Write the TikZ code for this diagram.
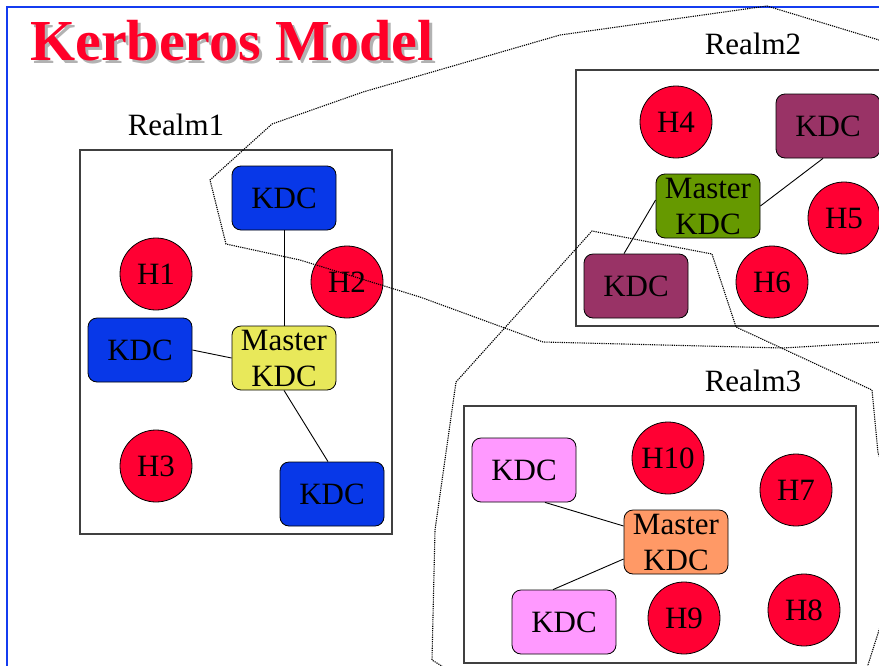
\documentclass[tikz,border=0pt]{standalone}
\usepackage{fontspec}
\setmainfont{Liberation Serif}
\definecolor{hostred}{RGB}{255,0,51}
\definecolor{kdcblue}{RGB}{8,56,232}
\definecolor{masteryellow}{RGB}{232,232,90}
\definecolor{kdcpurple}{RGB}{153,51,102}
\definecolor{mastergreen}{RGB}{102,153,0}
\definecolor{kdcpink}{RGB}{255,153,255}
\definecolor{masterorange}{RGB}{255,153,102}
\definecolor{frameblue}{RGB}{20,60,240}
\definecolor{titlered}{RGB}{255,0,40}
\begin{document}
\begin{tikzpicture}[x=1pt,y=-1pt,
  label/.style={font=\fontsize{31}{36}\selectfont, inner sep=0pt},
  host/.style={circle, draw=black, line width=0.8pt, fill=hostred,
    minimum size=72pt, inner sep=0pt, font=\fontsize{31}{36}\selectfont},
  kdcbox/.style={rectangle, rounded corners=9pt, draw=black, line width=0.8pt,
    minimum width=104pt, minimum height=64pt, inner sep=0pt, align=center,
    font=\fontsize{31}{36}\selectfont},
  realmbox/.style={rectangle, draw=black!75, line width=1.5pt, inner sep=0pt},
  trust/.style={dash pattern=on 1.2pt off 1pt, line width=1.1pt, draw=black},
  link/.style={line width=0.9pt, draw=black}]
\useasboundingbox (0,0) rectangle (879,665);
\clip (0,0) rectangle (879,665);
\fill[white] (0,0) rectangle (879,665);

% slide frame
\draw[frameblue, line width=2pt] (7,700) -- (7,7) -- (900,7);

% title with its grey drop shadow
\node[anchor=base west, inner sep=0pt, text=titlered,
  font=\fontsize{58}{60}\selectfont\bfseries] (title) at (30,60)
  {\makebox[0pt][l]{\hspace{3pt}\raisebox{-3pt}{\textcolor{black!30}{Kerberos Model}}}Kerberos Model};

% realm frames and labels
\node[realmbox, minimum width=312pt, minimum height=384pt] (realm1) at (236,342) {};
\node[realmbox, minimum width=330pt, minimum height=256pt] (realm2) at (741,198) {};
\node[realmbox, minimum width=392pt, minimum height=257pt] (realm3) at (660,534.5) {};
\node[label] (r1label) at (176,125) {Realm1};
\node[label] (r2label) at (753,44) {Realm2};
\node[label] (r3label) at (753,381) {Realm3};

% realm 1
\node[kdcbox, fill=kdcblue] (k1a) at (284,198) {KDC};
\node[kdcbox, fill=kdcblue] (k1b) at (140,350) {KDC};
\node[kdcbox, fill=kdcblue] (k1c) at (332,494) {KDC};
\node[kdcbox, fill=masteryellow] (m1) at (284,358) {Master\\KDC};
\node[host] (h1) at (156,274) {H1};
\node[host] (h2) at (347,282) {H2};
\node[host] (h3) at (156,466) {H3};
\draw[link] (k1a.south) -- (m1.north);
\draw[link] (k1b.east) -- (m1.west);
\draw[link] (m1.south) -- ([xshift=-4pt]k1c.north);

% realm 2
\node[kdcbox, fill=kdcpurple] (k2a) at (828,126) {KDC};
\node[kdcbox, fill=kdcpurple] (k2b) at (636,286) {KDC};
\node[kdcbox, fill=mastergreen] (m2) at (708,206) {Master\\KDC};
\node[host] (h4) at (676,122) {H4};
\node[host] (h5) at (844,218) {H5};
\node[host] (h6) at (772,282) {H6};
\draw[link] (m2.east) -- ([xshift=-5pt]k2a.south);
\draw[link] ([yshift=6pt]m2.west) -- ([xshift=-12pt]k2b.north);

% realm 3
\node[kdcbox, fill=kdcpink] (k3a) at (524,470) {KDC};
\node[kdcbox, fill=kdcpink] (k3b) at (564,622) {KDC};
\node[kdcbox, fill=masterorange] (m3) at (676,542) {Master\\KDC};
\node[host] (h10) at (668,458) {H10};
\node[host] (h7) at (796,490) {H7};
\node[host] (h9) at (684,618) {H9};
\node[host] (h8) at (804,610) {H8};
\draw[link] ([xshift=21pt]k3a.south) -- ([yshift=16pt]m3.west);
\draw[link] ([yshift=-17pt]m3.west) -- ([xshift=-11pt]k3b.north);

% trust region between realm 1 and realm 2
\draw[trust] (900,48) -- (879,40) -- (767,6) -- (560,35) -- (363,92) -- (272,124)
  -- (210,180) -- (226,244) -- (300,260) -- (420,297) -- (543,342)
  -- (783,348) -- (900,341);

% trust region between realm 2 and realm 3
\draw[trust] (445,668) -- (432,660) -- (435,530) -- (456,382) -- (592,231)
  -- (712,254) -- (736,327) -- (872,390) -- (878,453) -- (885,470);
\draw[trust] (885,600) -- (880,627) -- (867,668);
\end{tikzpicture}
\end{document}
